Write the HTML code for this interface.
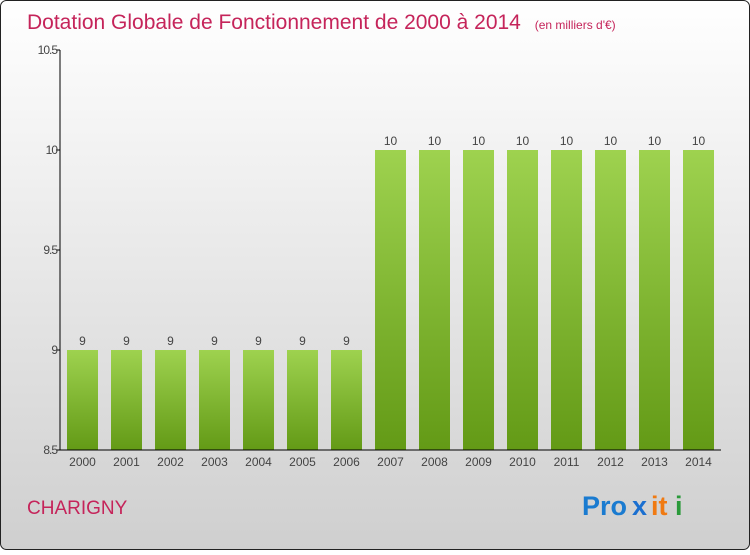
<!DOCTYPE html>
<html><head><meta charset="utf-8"><style>
body{margin:0;width:750px;height:550px;overflow:hidden;font-family:"Liberation Sans",sans-serif}
</style></head><body>
<svg width="750" height="550" xmlns="http://www.w3.org/2000/svg">
<defs>
<linearGradient id="bg" x1="0" y1="0" x2="0" y2="1"><stop offset="0" stop-color="#ffffff"/><stop offset="1" stop-color="#cfcfcf"/></linearGradient>
<linearGradient id="bar" x1="0" y1="0" x2="0" y2="1"><stop offset="0" stop-color="#9ed24f"/><stop offset="1" stop-color="#639a16"/></linearGradient>
</defs>
<rect x="0.5" y="0.5" width="749" height="549" rx="6" fill="url(#bg)" stroke="#222"/>
<text x="27" y="29" font-size="21" fill="#c5245a">Dotation Globale de Fonctionnement de 2000 à 2014 <tspan font-size="12" dx="8">(en milliers d'€)</tspan></text>
<g id="plot"></g>
<text x="27" y="514" font-size="19" fill="#c5245a">CHARIGNY</text>
<g font-size="27" font-weight="bold">
<text x="582" y="515" fill="#1a7bd0">Pro</text><text x="632" y="515" fill="#1a6fd0">x</text><text x="651" y="515" fill="#f07a12">it</text><text x="675" y="515" fill="#2a9a3a">i</text>
</g>
</svg>
<script>
const years=["2000","2001","2002","2003","2004","2005","2006","2007","2008","2009","2010","2011","2012","2013","2014"];
const values=[9,9,9,9,9,9,9,10,10,10,10,10,10,10,10];
const yTicks=[8.5,9,9.5,10,10.5];
const NS="http://www.w3.org/2000/svg";
const g=document.getElementById("plot");
const y=v=>450-(v-8.5)*200;
const x=i=>82.5+i*44;
function el(t,a){const e=document.createElementNS(NS,t);for(const k in a)e.setAttribute(k,a[k]);g.appendChild(e);return e;}
values.forEach((v,i)=>{
 const r=el("rect",{x:x(i)-15.5,y:y(v),width:31,height:450-y(v),fill:"url(#bar)"});
 
 
 const t=el("text",{x:x(i),y:y(v)-5,"font-size":12,"text-anchor":"middle",fill:"#444"});t.textContent=v;
 
 
 const xl=el("text",{x:x(i),y:466,"font-size":12,"text-anchor":"middle",fill:"#444"});xl.textContent=years[i];
 
 
});
const ax=el("path",{d:"M60 50V450H721",stroke:"#000",fill:"none"});


yTicks.forEach(v=>{
 const tk=el("line",{x1:56,x2:60,y1:y(v),y2:y(v),stroke:"#000"});
 
 
 const t=el("text",{x:57,y:y(v)+4,"font-size":12,"text-anchor":"end",fill:"#444","letter-spacing":"-1"});t.textContent=v;
 
 
});
</script>
</body></html>
